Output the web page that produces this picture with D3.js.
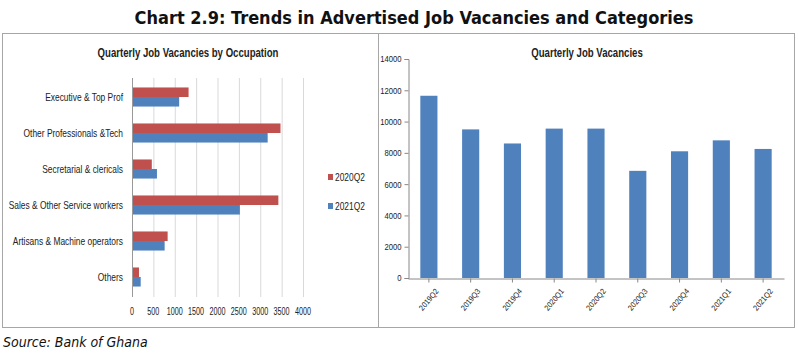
<!DOCTYPE html>
<html lang="en">
<head>
    <meta charset="UTF-8">
    <title>Chart 2.9</title>
    <script src="https://d3js.org/d3.v7.min.js"></script>
    <style>
        body { margin: 0; background: #fff; }
        svg { display: block; font-family: "Liberation Sans", Arial, sans-serif; }
    </style>
</head>
<body>
    <script>
        // 左图：按职业分类
        let occupations = ['Executive & Top Prof', 'Other Professionals &Tech', 'Secretarial & clericals',
                           'Sales & Other Service workers', 'Artisans & Machine operators', 'Others'];
        let seriesNames = ['2020Q2', '2021Q2'];
        let vals2020Q2 = [1300, 3450, 440, 3400, 810, 140];
        let vals2021Q2 = [1080, 3150, 560, 2500, 740, 180];
        let xTicksLeft = [0, 500, 1000, 1500, 2000, 2500, 3000, 3500, 4000];

        // 右图：季度
        let quarters = ['2019Q2', '2019Q3', '2019Q4', '2020Q1', '2020Q2', '2020Q3', '2020Q4', '2021Q1', '2021Q2'];
        let vacancies = [11650, 9500, 8600, 9550, 9550, 6850, 8100, 8800, 8250];
        let yTicksRight = [0, 2000, 4000, 6000, 8000, 10000, 12000, 14000];

        let width = 798, height = 354;
        let red = '#C0504D', blue = '#4F81BD';

        // 把文字横向压窄，模拟 Calibri 的窄字形
        function condense(sel, ratio) {
            sel.each(function() {
                let w = this.getComputedTextLength();
                this.setAttribute('textLength', w * ratio);
                this.setAttribute('lengthAdjust', 'spacingAndGlyphs');
            });
        }

        let svg = d3.select('body').append('svg')
                    .attr('width', width)
                    .attr('height', height);

        // 大标题
        svg.append('text')
           .attr('x', 414).attr('y', 24)
           .attr('text-anchor', 'middle')
           .attr('font-family', 'DejaVu Sans Condensed, DejaVu Sans, sans-serif')
           .attr('font-weight', 'bold')
           .attr('font-size', 18)
           .attr('fill', '#111')
           .text('Chart 2.9: Trends in Advertised Job Vacancies and Categories');

        // 边框
        svg.append('rect').attr('x', 2.5).attr('y', 33.5).attr('width', 792).attr('height', 294)
           .attr('fill', 'none').attr('stroke', '#a6a6a6');
        svg.append('line').attr('x1', 378.5).attr('x2', 378.5).attr('y1', 33.5).attr('y2', 327.5)
           .attr('stroke', '#a6a6a6');

        // 来源
        svg.append('text')
           .attr('x', 3).attr('y', 347)
           .attr('font-family', 'DejaVu Sans Condensed, DejaVu Sans, sans-serif')
           .attr('font-style', 'italic')
           .attr('font-size', 14)
           .attr('fill', '#111')
           .text('Source: Bank of Ghana');

        // ---------- 左图 ----------
        let left = svg.append('g');
        left.append('text')
            .attr('x', 188).attr('y', 57)
            .attr('text-anchor', 'middle')
            .attr('font-size', 12).attr('font-weight', 'bold').attr('fill', '#222')
            .text('Quarterly Job Vacancies by Occupation')
            .call(condense, 0.8);

        let xL = d3.scaleLinear().domain([0, 4000]).range([132, 303]);
        let yL = d3.scaleBand().domain(occupations).range([79, 295]).paddingInner(0.47).paddingOuter(0.235);
        let ySub = d3.scaleBand().domain(seriesNames).range([0, yL.bandwidth()]);

        // 网格线
        left.selectAll('.grid').data(xTicksLeft).enter().append('line')
            .attr('x1', d => xL(d) + 0.5).attr('x2', d => xL(d) + 0.5)
            .attr('y1', 78).attr('y2', 297)
            .attr('stroke', d => d === 0 ? '#999' : '#d9d9d9');

        let rows = occupations.map((c, i) => ({ cat: c, vals: [vals2020Q2[i], vals2021Q2[i]] }));
        let rowG = left.selectAll('.row').data(rows).enter().append('g')
                       .attr('transform', d => `translate(0, ${yL(d.cat)})`);
        rowG.selectAll('rect').data(d => d.vals.map((v, j) => ({ s: seriesNames[j], v: v }))).enter()
            .append('rect')
            .attr('x', xL(0) + 1)
            .attr('y', d => ySub(d.s))
            .attr('height', ySub.bandwidth())
            .attr('width', d => xL(d.v) - xL(0))
            .attr('fill', d => d.s === '2020Q2' ? red : blue);

        left.selectAll('.cat').data(occupations).enter().append('text')
            .attr('x', 123)
            .attr('y', d => yL(d) + yL.bandwidth() / 2 + 3.5)
            .attr('text-anchor', 'end')
            .attr('font-size', 10.5).attr('fill', '#222')
            .text(d => d)
            .call(condense, 0.8);

        left.selectAll('.xt').data(xTicksLeft).enter().append('text')
            .attr('x', d => xL(d)).attr('y', 315)
            .attr('text-anchor', 'middle')
            .attr('font-size', 10).attr('fill', '#222')
            .text(d => d)
            .call(condense, 0.72);

        // 图例
        let legend = left.selectAll('.lg').data(seriesNames).enter().append('g')
                         .attr('transform', (d, i) => `translate(328, ${174 + i * 29})`);
        legend.append('rect').attr('width', 5).attr('height', 6)
              .attr('fill', d => d === '2020Q2' ? red : blue);
        legend.append('text').attr('x', 7).attr('y', 6.5)
              .attr('font-size', 10.5).attr('fill', '#222').text(d => d)
              .call(condense, 0.8);

        // ---------- 右图 ----------
        let right = svg.append('g');
        right.append('text')
             .attr('x', 587).attr('y', 57)
             .attr('text-anchor', 'middle')
             .attr('font-size', 12).attr('font-weight', 'bold').attr('fill', '#222')
             .text('Quarterly Job Vacancies')
             .call(condense, 0.8);

        let xR = d3.scaleBand().domain(quarters).range([408, 784]).paddingInner(0.59).paddingOuter(0.295);
        let yR = d3.scaleLinear().domain([0, 14000]).range([278, 59]);

        right.selectAll('.bar').data(quarters).enter().append('rect')
             .attr('x', d => xR(d))
             .attr('width', xR.bandwidth())
             .attr('y', (d, i) => yR(vacancies[i]))
             .attr('height', (d, i) => yR(0) - yR(vacancies[i]))
             .attr('fill', blue);

        let yAxis = d3.axisLeft(yR).tickValues(yTicksRight).tickSize(4).tickFormat(d3.format('d'));
        right.append('g').attr('transform', 'translate(408.5, 0)').call(yAxis)
             .call(g => g.select('.domain').attr('stroke', '#888'))
             .call(g => g.selectAll('line').attr('stroke', '#888'))
             .call(g => g.selectAll('text').attr('font-size', 9).attr('fill', '#222')
                         .attr('font-family', 'Liberation Sans, Arial, sans-serif')
                         .call(condense, 0.85));

        let xAxis = d3.axisBottom(xR).tickSize(4).tickSizeOuter(0);
        let xg = right.append('g').attr('transform', 'translate(0, 278.5)').call(xAxis);
        xg.select('.domain').attr('stroke', '#888');
        xg.selectAll('line').attr('stroke', '#888');
        xg.selectAll('text')
          .attr('font-size', 8).attr('fill', '#222')
          .attr('font-family', 'Liberation Sans, Arial, sans-serif')
          .attr('text-anchor', 'end')
          .attr('dy', '0.3em')
          .attr('transform', 'translate(3, 7) rotate(-50)')
          .call(condense, 0.9);
    </script>
</body>
</html>
